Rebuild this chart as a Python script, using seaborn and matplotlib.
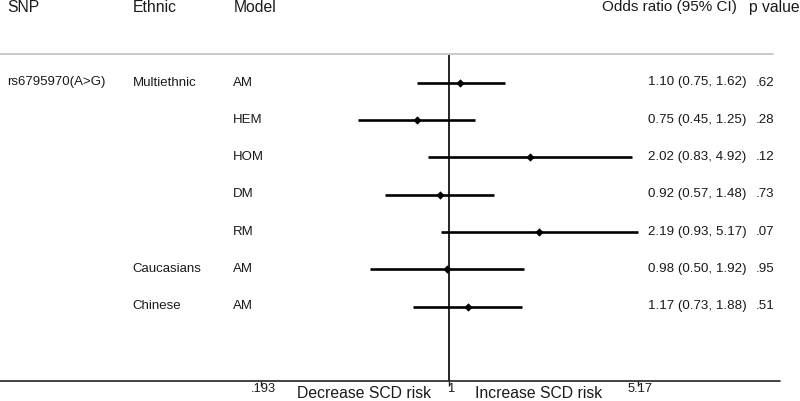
import numpy as np
import pandas as pd
import matplotlib
matplotlib.use('Agg')
import matplotlib.pyplot as plt
import matplotlib.transforms as mtransforms
import seaborn as sns

# data
snp = ['rs6795970(A>G)', '', '', '', '', '', '']
ethnic = ['Multiethnic', '', '', '', '', 'Caucasians', 'Chinese']
model = ['AM', 'HEM', 'HOM', 'DM', 'RM', 'AM', 'AM']
odds = [1.10, 0.75, 2.02, 0.92, 2.19, 0.98, 1.17]
ci_low = [0.75, 0.45, 0.83, 0.57, 0.93, 0.50, 0.73]
ci_high = [1.62, 1.25, 4.92, 1.48, 5.17, 1.92, 1.88]
p_vals = ['.62', '.28', '.12', '.73', '.07', '.95', '.51']
x_ticks = [0.193, 1, 5.17]
x_tick_labels = ['.193', '1', '5.17']

df = pd.DataFrame({'snp': snp, 'ethnic': ethnic, 'model': model,
                   'odds': odds, 'lo': ci_low, 'hi': ci_high, 'p': p_vals})
df['row'] = np.arange(len(df))

sns.set_style('white')
plt.rcParams['font.family'] = ['Liberation Sans', 'DejaVu Sans']

W, H = 800, 401
fig = plt.figure(figsize=(W / 100, H / 100), dpi=100)
ax = fig.add_axes([0, 0, 1, 1])
ax.axis('off')

# pixel geometry: x=1 at 449.5px, 114.7 px per log unit; rows from 82.7px, 37.3px apart
x0, k = 449.5, 114.7
y0, dy = 82.7, 37.3
ax.set_xscale('log')
ax.set_xlim(np.exp(-x0 / k), np.exp((W - x0) / k))
ax.set_ylim((H - y0) / dy, -y0 / dy)


def ypx(p):
    return (p - y0) / dy


def xlog(px):
    return np.exp((px - x0) / k)


tr = mtransforms.blended_transform_factory(ax.transAxes, ax.transData)
ink = '#1a1a1a'

# confidence intervals and point estimates
ax.hlines(df['row'], df['lo'], df['hi'], color='black', lw=1.9)
sns.scatterplot(data=df, x='odds', y='row', marker='D', s=18, color='black',
                edgecolor='black', linewidth=0, ax=ax, zorder=3, legend=False)
ax.set_xlabel('')
ax.set_ylabel('')
ax.axis('off')

# null line, header rule, axis line
ax.vlines(1, ypx(55), ypx(381), color='black', lw=1.2)
ax.axhline(ypx(54.5), xmin=0, xmax=773 / W, color='#c4c4c4', lw=1.3)
ax.axhline(ypx(381), xmin=0, xmax=780 / W, color='#222222', lw=1.2)
for t, lab in zip(x_ticks, x_tick_labels):
    ax.vlines(t, ypx(381), ypx(385.5), color='#222222', lw=1)
    # labels sit a few pixels right of their ticks in the original
    ax.annotate(lab, (t, ypx(388.5)), xytext=(2.5, 0), textcoords='offset pixels',
                ha='center', va='center', fontsize=9.3, color=ink)
ax.text(xlog(364.5), ypx(393), 'Decrease SCD risk', ha='center', va='center',
        fontsize=11.3, color=ink)
ax.text(xlog(538.5), ypx(393), 'Increase SCD risk', ha='center', va='center',
        fontsize=11.3, color=ink)

# headers
hy = ypx(7.5)
ax.text(7.3 / W, hy, 'SNP', transform=tr, ha='left', va='center', fontsize=11.3, color=ink)
ax.text(132.7 / W, hy, 'Ethnic', transform=tr, ha='left', va='center', fontsize=11.3, color=ink)
ax.text(233.3 / W, hy, 'Model', transform=tr, ha='left', va='center', fontsize=11.3, color=ink)
ax.text(601.5 / W, hy, 'Odds ratio (95% CI)', transform=tr, ha='left', va='center',
        fontsize=11, color=ink)
ax.text(749 / W, hy, 'p value', transform=tr, ha='left', va='center', fontsize=11.3, color=ink)

# row labels
for _, r in df.iterrows():
    ty = r['row'] - 0.2 / dy
    ax.text(7.3 / W, ty, r['snp'], transform=tr, ha='left', va='center', fontsize=9.5, color=ink)
    ax.text(132.7 / W, ty, r['ethnic'], transform=tr, ha='left', va='center', fontsize=9.5, color=ink)
    ax.text(233.3 / W, ty, r['model'], transform=tr, ha='left', va='center', fontsize=9.5, color=ink)
    ci_txt = '%.2f (%.2f, %.2f)' % (r['odds'], r['lo'], r['hi'])
    ax.text(746.7 / W, ty, ci_txt, transform=tr, ha='right', va='center', fontsize=9.6, color=ink)
    ax.text(755.5 / W, ty, r['p'], transform=tr, ha='left', va='center', fontsize=9.6, color=ink)

fig.savefig('out.png', dpi=100)
